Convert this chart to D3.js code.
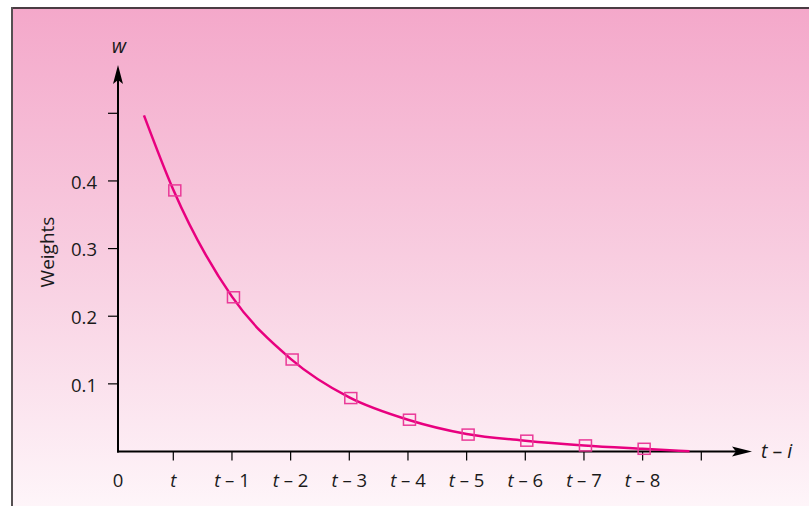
<!DOCTYPE html>
<html>
<head>
<meta charset="utf-8">
<script src="https://cdn.jsdelivr.net/npm/d3@7"></script>
<style>
  html, body { margin: 0; padding: 0; background: #ffffff; }
  svg { display: block; }
  text { font-family: "Open Sans", "Noto Sans", sans-serif; fill: #1a1a1a; }
</style>
</head>
<body>
<svg id="chart" width="809" height="506"></svg>
<script>
// ---- data ----
const lagIndex = [1, 2, 3, 4, 5, 6, 7, 8, 9];
const weights = [0.386, 0.228, 0.136, 0.079, 0.047, 0.025, 0.016, 0.009, 0.004];
const tickLabels = ["t", "t \u2013 1", "t \u2013 2", "t \u2013 3", "t \u2013 4", "t \u2013 5", "t \u2013 6", "t \u2013 7", "t \u2013 8", ""];
const tickIndex = [1, 2, 3, 4, 5, 6, 7, 8, 9, 10];
const curveIndex = [0.5, 1, 2, 3, 4, 5, 6, 7, 8, 9, 9.8];
const curveWeights = [0.497, 0.387, 0.229, 0.137, 0.080, 0.047, 0.026, 0.016, 0.009, 0.004, 0.0003];
const yTicks = [0.1, 0.2, 0.3, 0.4, 0.5];
const yTickLabels = ["0.1", "0.2", "0.3", "0.4", ""];

// ---- layout ----
const W = 809, H = 506;
const originX = 118, originY = 451.5;
const FS = "18.5px";
const svg = d3.select("#chart");

const x = d3.scaleLinear().domain([1, 10]).range([173.3, 701.3]);
const y = d3.scaleLinear().domain([0, 0.5]).range([originY, 113.3]);

// background panel with gradient
const defs = svg.append("defs");
const grad = defs.append("linearGradient").attr("id", "bg")
  .attr("x1", 0).attr("y1", 0).attr("x2", 0).attr("y2", 1);
grad.append("stop").attr("offset", "0%").attr("stop-color", "#f4a8ca");
grad.append("stop").attr("offset", "50%").attr("stop-color", "#f8cde0");
grad.append("stop").attr("offset", "100%").attr("stop-color", "#fef5f9");

svg.append("rect").attr("x", 12).attr("y", 8).attr("width", W - 12).attr("height", H - 8)
  .attr("fill", "url(#bg)");
// borders
svg.append("line").attr("x1", 11).attr("x2", W).attr("y1", 8).attr("y2", 8)
  .attr("stroke", "#4a3c42").attr("stroke-width", 2);
svg.append("line").attr("x1", 12).attr("x2", 12).attr("y1", 7).attr("y2", H)
  .attr("stroke", "#555052").attr("stroke-width", 2);

// ---- axes ----
const axisG = svg.append("g");
axisG.append("line").attr("x1", originX - 1).attr("x2", 740).attr("y1", originY).attr("y2", originY)
  .attr("stroke", "#000").attr("stroke-width", 2);
axisG.append("path")
  .attr("d", `M752,${originY} L732,${originY - 5} L736,${originY} L732,${originY + 5} Z`)
  .attr("fill", "#000");
axisG.append("line").attr("x1", originX).attr("x2", originX).attr("y1", originY + 1).attr("y2", 78)
  .attr("stroke", "#000").attr("stroke-width", 2);
axisG.append("path")
  .attr("d", `M${originX},65 L${originX - 5},84 L${originX},80 L${originX + 5},84 Z`)
  .attr("fill", "#000");

// x ticks
const xt = axisG.selectAll(".xt").data(tickIndex).enter().append("g")
  .attr("transform", d => `translate(${x(d)},0)`);
xt.append("line").attr("y1", originY).attr("y2", originY + 9)
  .attr("stroke", "#000").attr("stroke-width", 1.2);
const xl = xt.append("text").attr("y", 487).attr("text-anchor", "middle")
  .style("font-size", FS);
xl.each(function(d, i) {
  const lab = tickLabels[i];
  if (!lab) return;
  const t = d3.select(this);
  t.append("tspan").style("font-style", "italic").text(lab.slice(0, 1));
  if (lab.length > 1) t.append("tspan").text(lab.slice(1));
});
axisG.append("text").attr("x", originX).attr("y", 487).attr("text-anchor", "middle")
  .style("font-size", FS).text("0");

// y ticks
const yt = axisG.selectAll(".yt").data(yTicks).enter().append("g")
  .attr("transform", d => `translate(0,${y(d)})`);
yt.append("line").attr("x1", originX - 10).attr("x2", originX)
  .attr("stroke", "#000").attr("stroke-width", 1.2);
yt.append("text").attr("x", 97).attr("y", 1).attr("dy", "0.36em").attr("text-anchor", "end")
  .style("font-size", FS).text((d, i) => yTickLabels[i]);

// axis titles
svg.append("text").attr("x", originX + 1).attr("y", 53).attr("text-anchor", "middle")
  .style("font-size", "20px").style("font-style", "italic").text("w");
const ti = svg.append("text").attr("x", 761).attr("y", 458).style("font-size", "19.5px");
ti.append("tspan").style("font-style", "italic").text("t");
ti.append("tspan").text(" \u2013 ");
ti.append("tspan").style("font-style", "italic").text("i");

svg.append("text").attr("transform", "translate(54,252) rotate(-90)")
  .attr("text-anchor", "middle").style("font-size", "19px").text("Weights");

// ---- curve ----
const line = d3.line().x(d => x(d[0])).y(d => y(d[1])).curve(d3.curveMonotoneX);
svg.append("path").datum(curveIndex.map((v, i) => [v, curveWeights[i]]))
  .attr("d", line).attr("fill", "none").attr("stroke", "#e8007f").attr("stroke-width", 2.5);

// ---- markers ----
svg.selectAll(".mk").data(lagIndex).enter().append("rect")
  .attr("x", d => x(d) + 1.5 - 6).attr("y", (d, i) => y(weights[i]) - 5.5)
  .attr("width", 12).attr("height", 11)
  .attr("fill", "none").attr("stroke", "#ea3a98").attr("stroke-width", 1.5);
</script>
</body>
</html>
